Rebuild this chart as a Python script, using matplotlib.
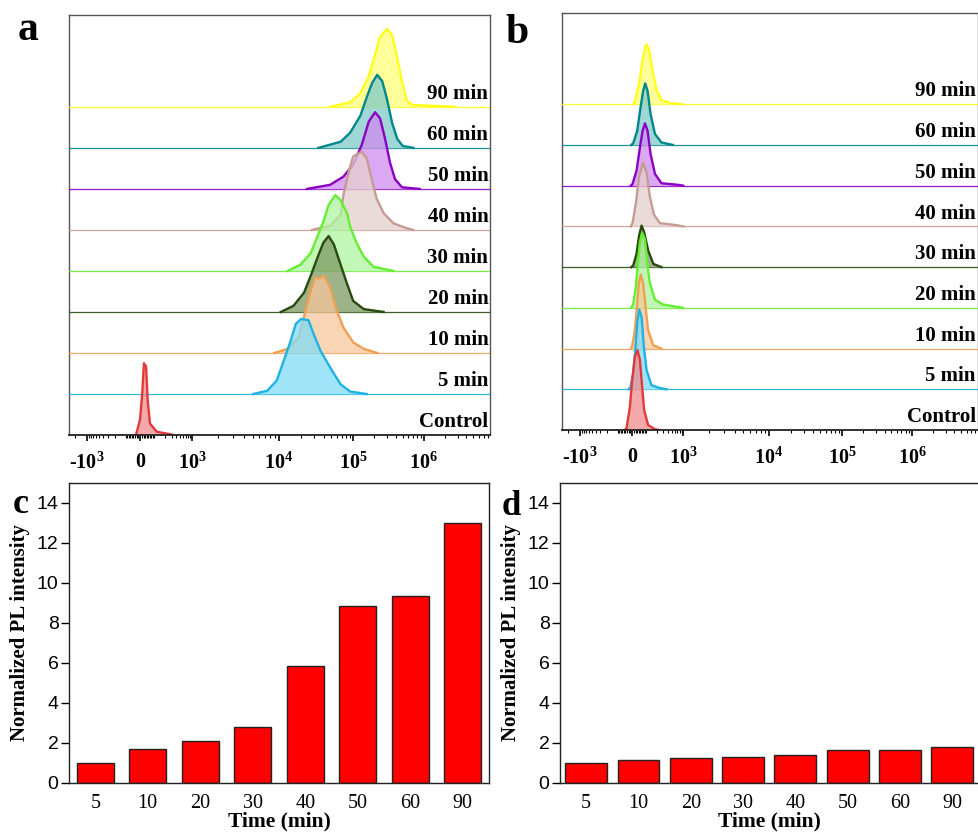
import numpy as np
import matplotlib
matplotlib.use('Agg')
import matplotlib.pyplot as plt
from matplotlib.transforms import blended_transform_factory
from matplotlib.ticker import FixedLocator, NullFormatter

plt.rcParams['font.family'] = ['Liberation Serif', 'DejaVu Serif']
plt.rcParams['mathtext.fontset'] = 'custom'
plt.rcParams['mathtext.rm'] = 'Liberation Serif'
plt.rcParams['mathtext.bf'] = 'Liberation Serif:bold'

# ---------------- data ----------------
LANES = ['Control', '5 min', '10 min', '20 min', '30 min', '40 min', '50 min', '60 min', '90 min']

# panel a histograms: fluorescence values and heights (in lane units)
A_CTRL_X = [-24, -1, 12, 22, 35, 45, 60, 111, 273, 330]
A_CTRL_H = [0, 0.37, 1.02, 1.75, 1.67, 0.85, 0.28, 0.08, 0.02, 0]
A_5_X = [5.1e3, 7.4e3, 9.5e3, 1.17e4, 1.45e4, 1.7e4, 2.0e4, 2.51e4, 2.95e4, 3.63e4, 4.9e4, 6.76e4, 9.1e4, 1.55e5]
A_5_H = [0, 0.08, 0.33, 0.81, 1.30, 1.71, 1.83, 1.80, 1.46, 1.06, 0.65, 0.24, 0.06, 0]
A_10_X = [8.9e3, 1.32e4, 1.86e4, 2.29e4, 2.69e4, 3.09e4, 3.55e4, 4.07e4, 4.9e4, 6.03e4, 7.4e4, 1.0e5, 1.41e5, 2.19e5]
A_10_H = [0, 0.10, 0.38, 1.03, 1.52, 1.84, 1.82, 1.88, 1.60, 1.03, 0.62, 0.26, 0.10, 0]
A_20_X = [1.07e4, 1.58e4, 2.19e4, 2.69e4, 3.31e4, 3.98e4, 4.68e4, 5.5e4, 6.76e4, 8.3e4, 1.0e5, 1.41e5, 2.69e5]
A_20_H = [0, 0.15, 0.47, 0.88, 1.32, 1.69, 1.85, 1.65, 1.16, 0.68, 0.27, 0.07, 0]
A_30_X = [1.32e4, 1.95e4, 2.69e4, 3.31e4, 3.98e4, 4.68e4, 5.75e4, 6.76e4, 8.3e4, 9.1e4, 1.12e5, 1.41e5, 1.95e5, 3.72e5]
A_30_H = [0, 0.15, 0.43, 0.84, 1.20, 1.61, 1.85, 1.73, 1.40, 1.08, 0.68, 0.35, 0.10, 0]
A_40_X = [2.8e4, 4.9e4, 6.8e4, 7.4e4, 8.7e4, 1.0e5, 1.32e5, 1.55e5, 1.82e5, 2.14e5, 2.69e5, 3.72e5, 5.75e5, 7.1e5]
A_40_H = [0, 0.10, 0.37, 0.85, 1.42, 1.79, 1.91, 1.75, 1.26, 0.77, 0.41, 0.16, 0.04, 0]
A_50_X = [2.4e4, 4.9e4, 7.4e4, 1.0e5, 1.32e5, 1.66e5, 2.04e5, 2.4e5, 2.82e5, 3.31e5, 3.9e5, 4.9e5, 8.7e5]
A_50_H = [0, 0.10, 0.30, 0.59, 1.07, 1.64, 1.87, 1.72, 1.23, 0.65, 0.24, 0.04, 0]
A_60_X = [3.4e4, 6.8e4, 9.1e4, 1.26e5, 1.58e5, 1.86e5, 2.19e5, 2.57e5, 3.0e5, 3.55e5, 4.2e5, 5.0e5, 7.1e5]
A_60_H = [0, 0.15, 0.37, 0.78, 1.27, 1.59, 1.78, 1.63, 1.20, 0.61, 0.22, 0.05, 0]
A_90_X = [4.9e4, 9.1e4, 1.26e5, 1.62e5, 2.04e5, 2.4e5, 3.0e5, 3.55e5, 4.2e5, 4.9e5, 5.75e5, 6.8e5, 8.7e5, 1.6e6, 2.8e6]
A_90_H = [0, 0.11, 0.33, 0.70, 1.27, 1.71, 1.90, 1.76, 1.19, 0.62, 0.15, 0.05, 0.04, 0.02, 0]

# panel b histograms
B_CTRL_X = [-45, -33, -13, 0, 16, 32, 47, 62, 76, 108, 177, 230]
B_CTRL_H = [0, 0.04, 0.57, 1.23, 1.80, 1.96, 1.72, 1.06, 0.49, 0.12, 0.02, 0]
B_5_X = [-20, -9, 6, 20, 30, 42, 58, 74, 95, 139, 244, 370]
B_5_H = [0, 0.06, 0.39, 1.05, 1.62, 1.96, 1.78, 1.05, 0.47, 0.10, 0.03, 0]
B_10_X = [-8, 0, 16, 30, 40, 53, 69, 87, 108, 158, 270]
B_10_H = [0, 0.06, 0.45, 1.10, 1.60, 1.82, 1.60, 1.02, 0.45, 0.08, 0]
B_20_X = [-5, 6, 22, 36, 47, 62, 82, 100, 123, 177, 300, 990]
B_20_H = [0, 0.08, 0.53, 1.19, 1.60, 1.84, 1.68, 1.10, 0.61, 0.20, 0.08, 0]
B_30_X = [-5, 6, 26, 42, 58, 76, 108, 158, 270]
B_30_H = [0, 0.04, 0.33, 0.78, 1.02, 0.86, 0.41, 0.08, 0]
B_40_X = [-8, 2, 22, 42, 69, 95, 123, 165, 244, 670, 1000]
B_40_H = [0, 0.08, 0.57, 1.23, 1.57, 1.31, 0.74, 0.29, 0.08, 0.03, 0]
B_50_X = [-8, 2, 26, 47, 65, 82, 103, 130, 177, 270, 740, 1000]
B_50_H = [0, 0.04, 0.37, 0.94, 1.35, 1.53, 1.35, 0.78, 0.29, 0.06, 0.02, 0]
B_60_X = [-5, 6, 30, 51, 69, 84, 103, 130, 177, 270, 540]
B_60_H = [0, 0.04, 0.35, 0.92, 1.33, 1.51, 1.33, 0.76, 0.27, 0.06, 0]
B_90_X = [5, 16, 42, 65, 82, 95, 117, 150, 197, 270, 450, 975]
B_90_H = [0, 0.06, 0.51, 1.08, 1.37, 1.47, 1.33, 0.83, 0.34, 0.10, 0.03, 0]

TIME_LABELS = ['5', '10', '20', '30', '40', '50', '60', '90']
PL_C = [1.0, 1.72, 2.1, 2.78, 5.87, 8.85, 9.35, 12.98]
PL_D = [1.0, 1.13, 1.25, 1.30, 1.38, 1.65, 1.67, 1.82]

XTICK_VALUES = [-1e3, 0, 1e3, 1e4, 1e5, 1e6]
XTICK_LABELS = ['-$\\mathbf{10^{3}}$', '$\\mathbf{0}$', '$\\mathbf{10^{3}}$',
                '$\\mathbf{10^{4}}$', '$\\mathbf{10^{5}}$', '$\\mathbf{10^{6}}$']

# colours (line, fill) per lane
COL_A = [('#e23a3a', '#f08c8c'), ('#1fb3e3', '#7fdcf5'), ('#f0a050', '#f8c79c'),
         ('#2b4a10', '#7d9a62'), ('#66ee33', '#aef5a0'), ('#c49c94', '#e5d0cc'),
         ('#8a00c4', '#d08cef'), ('#00878a', '#7fcaca'), ('#ffff1a', '#ffff78')]
COL_B = [('#e23a3a', '#f08c8c'), ('#1fb3e3', '#7fdcf5'), ('#f0a050', '#f8c79c'),
         ('#66ee33', '#aef5a0'), ('#2b4a10', '#7d9a62'), ('#c49c94', '#e5d0cc'),
         ('#8a00c4', '#d08cef'), ('#00878a', '#7fcaca'), ('#ffff1a', '#ffff78')]

A_CURVES = [(A_CTRL_X, A_CTRL_H), (A_5_X, A_5_H), (A_10_X, A_10_H), (A_20_X, A_20_H),
            (A_30_X, A_30_H), (A_40_X, A_40_H), (A_50_X, A_50_H), (A_60_X, A_60_H),
            (A_90_X, A_90_H)]
B_CURVES = [(B_CTRL_X, B_CTRL_H), (B_5_X, B_5_H), (B_10_X, B_10_H), (B_20_X, B_20_H),
            (B_30_X, B_30_H), (B_40_X, B_40_H), (B_50_X, B_50_H), (B_60_X, B_60_H),
            (B_90_X, B_90_H)]

# ---------------- biexponential-like axis scale ----------------
SC_V = np.array([-1e6, -1e4, -1e3, 0.0, 1e3, 1e4, 1e5, 1e6, 1e7, 1e9])
SC_P = np.array([-0.236, -0.05, 0.043, 0.169, 0.292, 0.498, 0.675, 0.843, 1.011, 1.49])
SC_T = np.arcsinh(SC_V / 100.0)


def fwd(x):
    x = np.asarray(x, dtype=float)
    return np.interp(np.arcsinh(x / 100.0), SC_T, SC_P)


def inv(p):
    p = np.asarray(p, dtype=float)
    return 100.0 * np.sinh(np.interp(p, SC_P, SC_T))


fig = plt.figure(figsize=(9.79, 8.34), dpi=100)


def hist_panel(rect, curves, colors):
    ax = fig.add_axes(rect)
    ax.set_xscale('function', functions=(fwd, inv))
    ax.set_xlim(float(inv(0.0)), float(inv(1.0)))
    ax.set_ylim(0, 10.24)
    n = len(curves)
    for i in range(n - 1, -1, -1):
        xs, hs = curves[i]
        lc, fc = colors[i]
        off = i
        ax.axhline(off, color=lc, lw=0.9, alpha=0.9, zorder=2 + (n - i))
        ys = np.array(hs) + off
        ax.fill_between(xs, off, ys, color=fc, alpha=0.75, lw=0, zorder=2 + (n - i))
        ax.plot(xs, ys, color=lc, lw=1.7, zorder=2.5 + (n - i),
                solid_joinstyle='round')
    tr = blended_transform_factory(ax.transAxes, ax.transData)
    for i, lab in enumerate(LANES):
        ax.text(0.996, i + 0.07, lab, transform=tr, ha='right', va='bottom',
                fontsize=15, fontweight='bold', zorder=30)
    ax.set_yticks([])
    ax.xaxis.set_major_locator(FixedLocator(XTICK_VALUES))
    ax.set_xticklabels(XTICK_LABELS)
    minors = []
    for s in (-1, 1):
        minors += [s * k * 10 for k in range(1, 10)]
        minors += [s * k * 100 for k in range(2, 10)]
    minors += [-2000]
    for e in range(3, 7):
        minors += [k * 10 ** e for k in range(2, 10)]
    ax.xaxis.set_minor_locator(FixedLocator(minors))
    ax.xaxis.set_minor_formatter(NullFormatter())
    ax.tick_params(axis='x', which='major', direction='out', length=4, width=1.2,
                   pad=9, labelsize=14.5)
    ax.tick_params(axis='x', which='minor', direction='out', length=2, width=0.8)
    for s in ('left', 'top', 'right'):
        ax.spines[s].set_color('#555555')
        ax.spines[s].set_linewidth(1.0)
    ax.spines['bottom'].set_color('#222222')
    ax.spines['bottom'].set_linewidth(1.3)
    ax.spines['bottom'].set_zorder(40)
    return ax


hist_panel([0.0705, 0.4784, 0.430, 0.5036], A_CURVES, COL_A)
hist_panel([0.574, 0.4844, 0.4245, 0.500], B_CURVES, COL_B)


def bar_panel(rect, vals, width):
    ax = fig.add_axes(rect)
    x = np.arange(len(vals))
    ax.bar(x, vals, width=width, color='#ff0000', edgecolor='#222222', lw=1.0)
    ax.set_xlim(-0.5, len(vals) - 0.5)
    ax.set_ylim(0, 15)
    ax.set_yticks(np.arange(0, 15, 2))
    ax.set_xticks(x)
    ax.set_xticklabels(TIME_LABELS, fontsize=14.5)
    for lab in ax.get_yticklabels():
        lab.set_fontfamily('Liberation Sans')
        lab.set_fontsize(14)
    ax.tick_params(axis='y', direction='out', length=6, width=1, pad=1.5)
    ax.tick_params(axis='x', length=0, pad=8)
    ax.set_xlabel('Time (min)', fontsize=15.5, fontweight='bold', labelpad=-1)
    ax.set_ylabel('Normalized PL intensity', fontsize=15, fontweight='bold', labelpad=5)
    for s in ax.spines.values():
        s.set_color('#222222')
        s.set_linewidth(1.0)
    return ax


bar_panel([0.0705, 0.0612, 0.429, 0.3597], PL_C, 0.7)
bar_panel([0.572, 0.0612, 0.4275, 0.3597], PL_D, 0.8)

fig.text(18 / 979, 1 - 40 / 834, 'a', fontsize=30, fontweight='bold', va='baseline')
fig.text(505 / 979, 1 - 43 / 834, 'b', fontsize=30, fontweight='bold', va='baseline')
fig.text(13 / 979, 1 - 513 / 834, 'c', fontsize=26, fontweight='bold', va='baseline')
fig.text(502 / 979, 1 - 515 / 834, 'd', fontsize=25, fontweight='bold', va='baseline')

fig.savefig('out.png', dpi=100)
